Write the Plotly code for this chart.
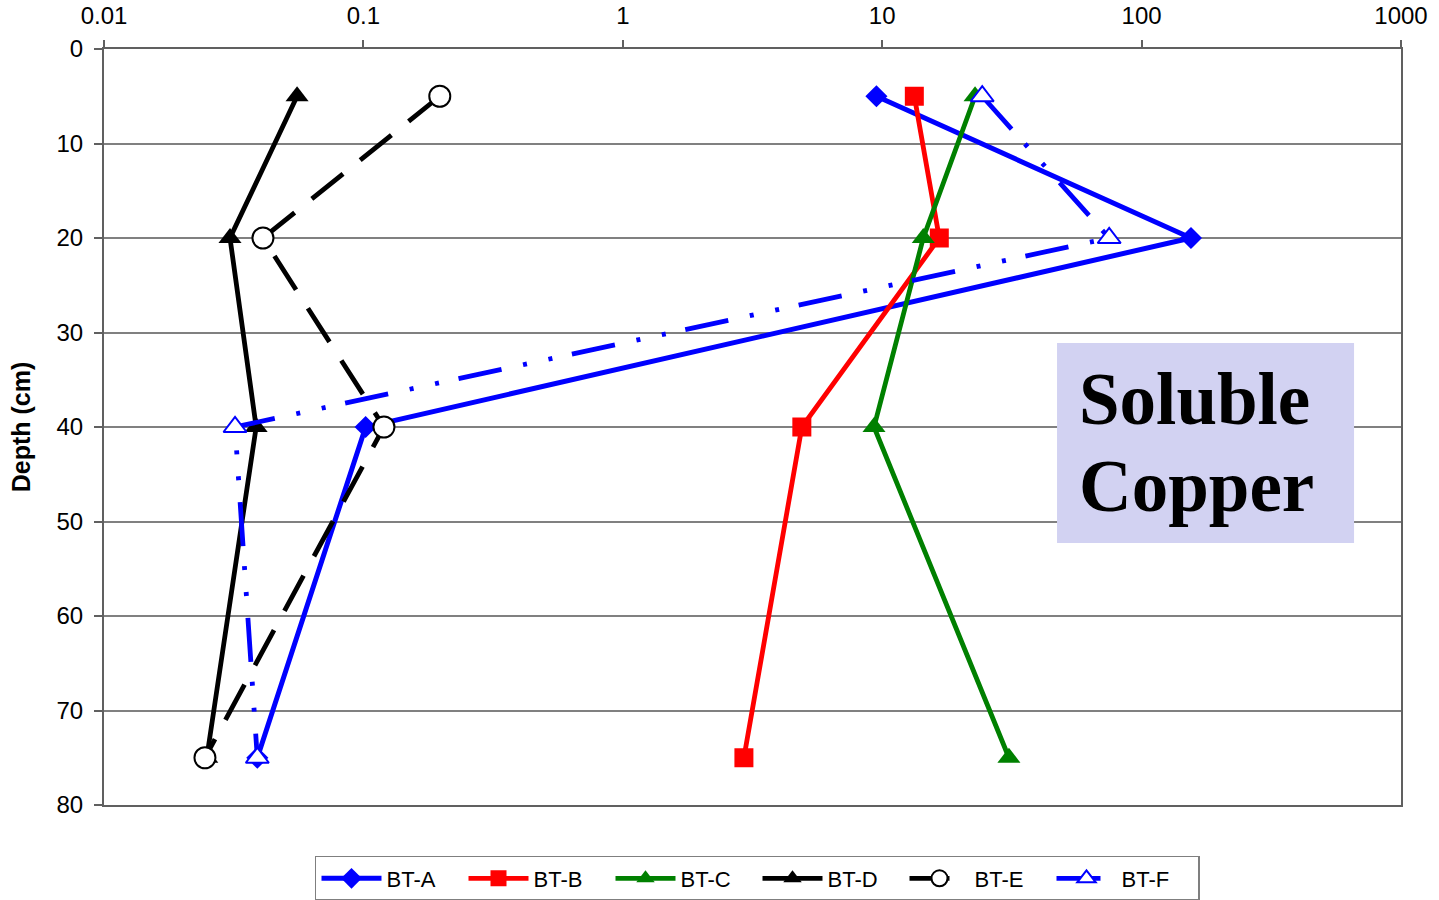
import plotly.graph_objects as go

# Sampling depths (cm) and soluble copper concentrations per borehole
depth = [5, 20, 40, 75]
bt_a = [9.5, 155, 0.102, 0.039]
bt_b = [13.3, 16.6, 4.9, 2.93]
bt_c = [22.8, 14.4, 9.3, 30.8]
bt_d = [0.0555, 0.0306, 0.0386, 0.0249]
bt_e = [0.197, 0.041, 0.12, 0.0245]
bt_f = [24.3, 75, 0.032, 0.039]

x_tick_vals = [0.01, 0.1, 1, 10, 100, 1000]
x_tick_text = ["0.01", "0.1", "1", "10", "100", "1000"]
y_tick_vals = [0, 10, 20, 30, 40, 50, 60, 70, 80]

FONT = "Liberation Sans, Arial, sans-serif"

series = [
    dict(name="BT-A", x=bt_a, color="#0000FF", dash="solid",
         symbol="diamond", size=17, fill="#0000FF", lw=5),
    dict(name="BT-B", x=bt_b, color="#FF0000", dash="solid",
         symbol="square", size=19, fill="#FF0000", lw=4.8),
    dict(name="BT-C", x=bt_c, color="#008000", dash="solid",
         symbol="triangle-up", size=20, fill="#008000", lw=4.8),
    dict(name="BT-D", x=bt_d, color="#000000", dash="solid",
         symbol="triangle-up", size=20, fill="#000000", lw=4.8),
    dict(name="BT-E", x=bt_e, color="#000000", dash="40px,22px",
         symbol="circle", size=21, fill="#FFFFFF", lw=4.8),
    dict(name="BT-F", x=bt_f, color="#0000FF",
         dash="44px,20px,4px,22px,4px,22px",
         symbol="triangle-up", size=20, fill="#FFFFFF", lw=4.8),
]

fig = go.Figure()
for s in series:
    open_marker = s["fill"] == "#FFFFFF"
    fig.add_trace(go.Scatter(
        x=s["x"], y=depth, name=s["name"], mode="lines+markers",
        line=dict(color=s["color"], width=s["lw"], dash=s["dash"]),
        marker=dict(symbol=s["symbol"], size=s["size"], color=s["fill"],
                    line=dict(color=s["color"], width=2 if open_marker else 0)),
    ))

# Label panel on the right-hand side of the plot
fig.add_shape(type="rect", xref="paper", yref="paper",
              x0=0.7348, x1=0.9638, y0=0.3466, y1=0.6111,
              fillcolor="#D2D2F2", line=dict(width=0), layer="above")
for text, yy in [("Soluble", 0.537), ("Copper", 0.421)]:
    fig.add_annotation(xref="paper", yref="paper", x=0.750, y=yy,
                       xanchor="left", yanchor="middle", text=text,
                       showarrow=False,
                       font=dict(family="Liberation Serif, Times New Roman, serif",
                                 size=73, color="#000000", weight="bold"))

fig.update_layout(
    width=1439, height=900,
    margin=dict(l=104, r=38, t=49, b=95),
    plot_bgcolor="#FFFFFF", paper_bgcolor="#FFFFFF",
    font=dict(family=FONT, size=24, color="#000000"),
    legend=dict(orientation="h", xref="container", yref="container",
                x=0.2189, xanchor="left", y=0.0489, yanchor="top",
                bordercolor="#7F7F7F", borderwidth=1.5,
                itemwidth=60, entrywidth=72, font=dict(size=22),
                traceorder="normal"),
    showlegend=True,
)

fig.update_xaxes(
    type="log", range=[-2, 3], side="top", automargin=False,
    tickvals=x_tick_vals, ticktext=x_tick_text,
    ticks="outside", ticklen=7, tickcolor="#606060", tickwidth=1.5,
    ticklabelstandoff=6,
    showgrid=False, showline=True, linecolor="#606060", linewidth=2,
    mirror=True, tickfont=dict(size=24),
)
fig.update_yaxes(
    range=[80, 0], tickvals=y_tick_vals, automargin=False,
    ticks="outside", ticklen=8, tickcolor="#606060", tickwidth=1.5,
    ticklabelstandoff=6,
    showgrid=True, gridcolor="#808080", gridwidth=1.5,
    showline=True, linecolor="#606060", linewidth=2, mirror=True,
    zeroline=False, tickfont=dict(size=24),
    title=dict(text="<b>Depth (cm)</b>", standoff=19,
               font=dict(size=25, family=FONT)),
)

fig.write_html("out.html")
